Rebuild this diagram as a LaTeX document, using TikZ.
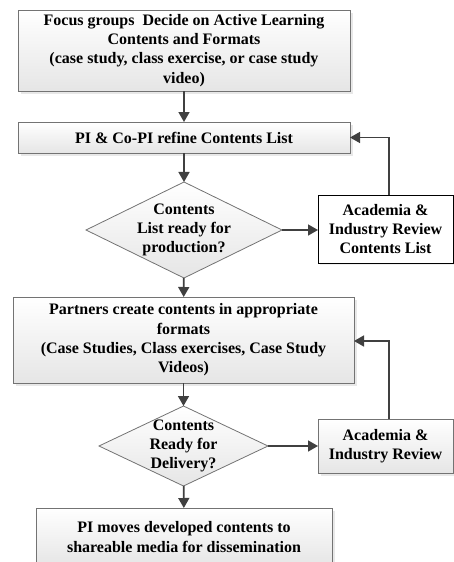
\documentclass[tikz,border=0pt]{standalone}
\usepackage{fontspec}
\setmainfont{Liberation Serif}
\usetikzlibrary{shapes.geometric,arrows.meta,shadows}
\tikzset{
  base/.style={font=\bfseries\fontsize{16}{19.3}\selectfont, align=center, inner sep=0pt, outer sep=0pt},
  procbox/.style={base, rectangle, draw=black!55, line width=0.8pt, top color=white, bottom color=black!10,
    drop shadow={opacity=0.18, shadow xshift=2.5pt, shadow yshift=-2.5pt}},
  revbox/.style={base, rectangle, draw=black, line width=0.8pt, fill=white,
    drop shadow={opacity=0.12, shadow xshift=2pt, shadow yshift=-2pt}},
  decision/.style={diamond, draw=black!55, line width=0.8pt, top color=white, bottom color=black!10, inner sep=0pt, outer sep=0pt},
  flow/.style={draw=black!75, line width=1.6pt, -{Triangle[length=10pt,width=11pt]}},
}
\begin{document}
\begin{tikzpicture}[x=1pt,y=-1pt]
\useasboundingbox (0,0) rectangle (454,562);
\begin{scope}
\clip (0,0) rectangle (454,562);
\node[procbox, minimum width=332pt, minimum height=81pt] (b1) at (184,50.5)
  {Focus groups\ \ Decide on Active Learning\\Contents and Formats\\(case study, class exercise, or case study\\video)};
\node[procbox, minimum width=332pt, minimum height=31pt] (b2) at (184,137.5) {PI \& Co-PI refine Contents List};
\node[decision, minimum width=196pt, minimum height=96pt,
  label={[base]center:Contents\\List ready for\\production?}] (d1) at (184,230) {};
\node[revbox, minimum width=135pt, minimum height=68pt] (r1) at (385.5,229) {Academia \&\\Industry Review\\Contents List};
\node[procbox, minimum width=341pt, minimum height=86pt] (b4) at (183.5,340)
  {Partners create contents in appropriate\\formats\\(Case Studies, Class exercises, Case Study\\Videos)};
\node[decision, minimum width=169pt, minimum height=80pt,
  label={[base]center:Contents\\Ready for\\Delivery?}] (d2) at (183.5,446) {};
\node[procbox, minimum width=135pt, minimum height=54pt] (r2) at (385.5,446) {Academia \&\\Industry Review};
\node[procbox, minimum width=296pt, minimum height=58pt] (b6) at (184,537) {PI moves developed contents to\\shareable media for dissemination};
\end{scope}
\draw[flow] (b1) -- (b2);
\draw[flow] (b2) -- (d1);
\draw[flow] (d1) -- (r1.west |- d1.east);
\draw[flow] ([xshift=3.5pt]r1.north) |- (b2.east);
\draw[flow] (d1) -- (b4);
\draw[flow] (b4) -- (d2);
\draw[flow] (d2) -- (r2);
\draw[flow] ([xshift=3.5pt]r2.north) |- (b4.east |- 0,341);
\draw[flow] (d2) -- (b6);
\end{tikzpicture}
\end{document}
